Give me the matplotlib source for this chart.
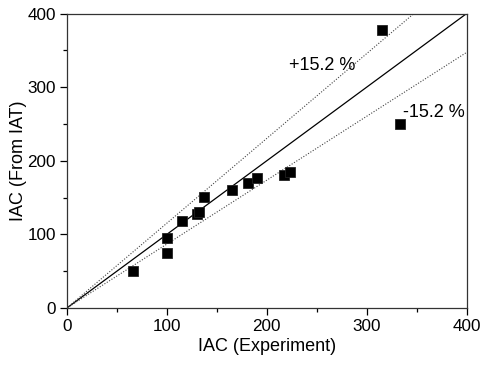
import numpy as np
import matplotlib
matplotlib.use('Agg')
import matplotlib.pyplot as plt
from matplotlib.ticker import MultipleLocator

plt.rcParams['font.family'] = ['Liberation Sans', 'DejaVu Sans']

# measured vs predicted IAC
iac_exp = [66, 100, 100, 115, 130, 132, 137, 165, 181, 190, 217, 223, 315, 333]
iac_iat = [50, 95, 74, 118, 127, 130, 151, 160, 170, 176, 181, 185, 378, 250]
dev = 0.152

fig = plt.figure(figsize=(4.82, 3.67), dpi=100)
ax = fig.add_axes([0.139, 0.161, 0.829, 0.802])

xx = np.array([0, 400])
ax.plot(xx, xx, color='black', lw=0.9)
ax.plot(xx, xx * (1 + dev), color='#444444', lw=0.8, ls=(0, (1, 1.5)))
ax.plot(xx, xx / (1 + dev), color='#444444', lw=0.8, ls=(0, (1, 1.5)))

ax.plot(iac_exp, iac_iat, 's', color='black', ms=7.4, mec='#222222', mew=0.6)

ax.text(222, 330, '+15.2 %', fontsize=13, va='center', ha='left')
ax.text(336, 265, '-15.2 %', fontsize=13, va='center', ha='left')

ax.set_xlim(0, 400)
ax.set_ylim(0, 400)
ax.xaxis.set_major_locator(MultipleLocator(100))
ax.xaxis.set_minor_locator(MultipleLocator(50))
ax.yaxis.set_major_locator(MultipleLocator(100))
ax.yaxis.set_minor_locator(MultipleLocator(50))
ax.tick_params(which='both', direction='out', top=False, right=False, labelsize=12.3)
ax.tick_params(which='major', length=5, width=0.9, pad=3)
ax.tick_params(which='minor', length=3, width=0.9)
for s in ax.spines.values():
    s.set_linewidth(0.9)
    s.set_color('#333333')

ax.set_xlabel('IAC (Experiment)', fontsize=13, labelpad=3)
ax.set_ylabel('IAC (From IAT)', fontsize=13, labelpad=0)

fig.savefig('out.png', dpi=100)
